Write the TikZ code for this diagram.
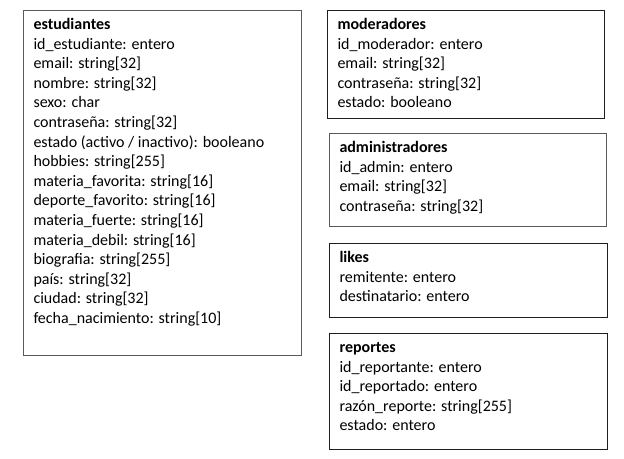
\documentclass[tikz,border=0pt]{standalone}
\usepackage{fontspec}
\setmainfont{Carlito}
\definecolor{edgegray}{HTML}{5A5A5A}
\definecolor{edgedark}{HTML}{1E1E1E}
\newcommand{\entbody}[3]{\parbox[c][#2][t]{#1}{\fontsize{16pt}{19.6pt}\selectfont\rule{0pt}{19pt}#3}}
\tikzset{
  entity/.style={draw=edgedark, line width=1pt, rectangle, anchor=north west,
    inner xsep=10pt, inner ysep=0pt, align=left, text=black},
  entitylight/.style={entity, draw=edgegray}
}
\begin{document}
\begin{tikzpicture}[x=1pt,y=-1pt]
\useasboundingbox (0,0) rectangle (624,458);
\node[entitylight] (est) at (23,10) {\entbody{258pt}{345pt}{%
\textbf{estudiantes}\\
id\_estudiante: entero\\
email: string[32]\\
nombre: string[32]\\
sexo: char\\
contraseña: string[32]\\
estado (activo / inactivo): booleano\\
hobbies: string[255]\\
materia\_favorita: string[16]\\
deporte\_favorito: string[16]\\
materia\_fuerte: string[16]\\
materia\_debil: string[16]\\
biografia: string[255]\\
país: string[32]\\
ciudad: string[32]\\
fecha\_nacimiento: string[10]}};
\node[entity] (mod) at (327,10) {\entbody{257pt}{108pt}{%
\textbf{moderadores}\\
id\_moderador: entero\\
email: string[32]\\
contraseña: string[32]\\
estado: booleano}};
\node[entitylight] (adm) at (329,133) {\entbody{257pt}{93pt}{%
\textbf{administradores}\\
id\_admin: entero\\
email: string[32]\\
contraseña: string[32]}};
\node[entity] (lik) at (329,243) {\entbody{258pt}{74pt}{%
\textbf{likes}\\
remitente: entero\\
destinatario: entero}};
\node[entity] (rep) at (329,333) {\entbody{258pt}{116pt}{%
\textbf{reportes}\\
id\_reportante: entero\\
id\_reportado: entero\\
razón\_reporte: string[255]\\
estado: entero}};
\end{tikzpicture}
\end{document}
